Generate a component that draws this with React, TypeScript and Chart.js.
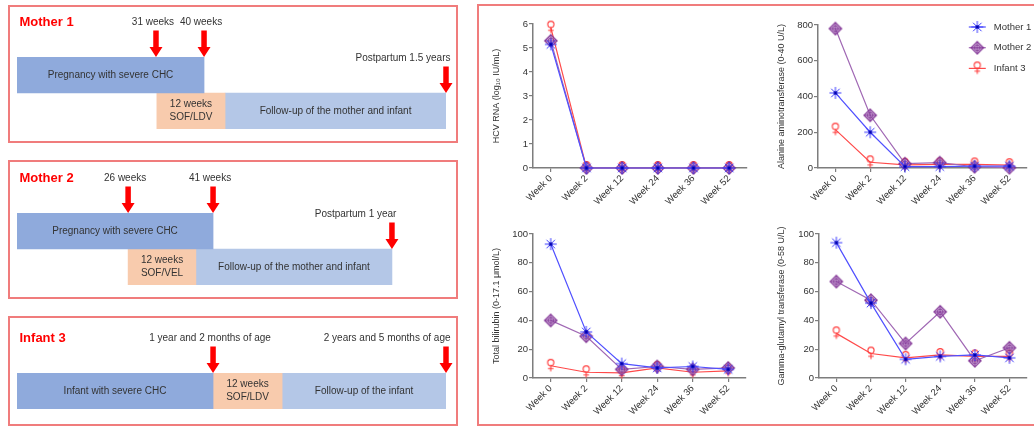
import React, { useEffect, useRef } from 'react';
import { Chart, registerables } from 'chart.js';

Chart.register(...registerables);

const FONT = '"Liberation Sans", Arial, Helvetica, sans-serif';
const TEXT = '#333333';
const AXIS = '#7d7d7d';
const PANEL_BORDER = '#F07C7C';

// ---------------- Line chart data ----------------
const weekLabels = ['Week 0', 'Week 2', 'Week 12', 'Week 24', 'Week 36', 'Week 52'];
const seriesNames = ['Mother 1', 'Mother 2', 'Infant 3'];

const hcvMother1 = [5.15, 0, 0, 0, 0, 0];
const hcvMother2 = [5.3, 0, 0, 0, 0, 0];
const hcvInfant3 = [5.85, 0, 0, 0, 0, 0];

const altMother1 = [420, 200, 8, 8, 10, 10];
const altMother2 = [780, 295, 24, 30, 7, 2];
const altInfant3 = [215, 32, 18, 20, 20, 16];

const biliMother1 = [93, 32, 10, 7, 8, 6];
const biliMother2 = [40, 29, 6, 8, 6, 7];
const biliInfant3 = [8.5, 4, 3.5, 7, 4, 5];

const ggtMother1 = [94, 52, 13, 15, 16, 14];
const ggtMother2 = [67, 54, 24, 46, 12, 21];
const ggtInfant3 = [31, 17, 14, 16, 15, 15];

// ---------------- Timeline data (schematic units 0-100) ----------------
const mother1Rows = ['pregnancy', 'after'];
const mother1Pregnancy = [0, 43.6];
const mother1Treatment = [32.6, 48.5];
const mother1FollowUp = [48.5, 100];
const mother1ArrowAt = [32.4, 43.6, 100];
const mother1ArrowRow = [0, 0, 1];
const mother1ArrowLabels = ['31 weeks', '40 weeks', 'Postpartum 1.5 years'];

const mother2Rows = ['pregnancy', 'after'];
const mother2Pregnancy = [0, 45.7];
const mother2Treatment = [25.9, 41.7];
const mother2FollowUp = [41.7, 87.4];
const mother2ArrowAt = [25.9, 45.7, 87.4];
const mother2ArrowRow = [0, 0, 1];
const mother2ArrowLabels = ['26 weeks', '41 weeks', 'Postpartum 1 year'];

const infant3Rows = ['infant'];
const infant3Disease = [0, 45.7];
const infant3Treatment = [45.7, 61.8];
const infant3FollowUp = [61.8, 100];
const infant3ArrowAt = [45.7, 100];
const infant3ArrowRow = [0, 0];
const infant3ArrowLabels = ['1 year and 2 months of age', '2 years and 5 months of age'];

const SEG_COLORS = ['#8FAADC', '#F8CBAD', '#B4C7E7'];

// ---------------- Markers ----------------
function makeCanvas(size: number) {
  const c = document.createElement('canvas');
  c.width = size;
  c.height = size;
  return c;
}

function asteriskMarker(color: string, core: string) {
  const c = makeCanvas(16);
  const ctx = c.getContext('2d')!;
  const m = 8;
  ctx.strokeStyle = color;
  ctx.lineWidth = 1;
  const r = 6;
  for (let k = 0; k < 4; k++) {
    const a = (k * Math.PI) / 4;
    ctx.beginPath();
    ctx.moveTo(m - r * Math.cos(a), m - r * Math.sin(a));
    ctx.lineTo(m + r * Math.cos(a), m + r * Math.sin(a));
    ctx.stroke();
  }
  ctx.fillStyle = core;
  ctx.fillRect(m - 1.6, m - 1.6, 3.2, 3.2);
  return c;
}

function diamondMarker(color: string, inner: string) {
  const c = makeCanvas(16);
  const ctx = c.getContext('2d')!;
  const m = 8;
  const r = 6.2;
  ctx.fillStyle = inner;
  ctx.strokeStyle = color;
  ctx.lineWidth = 1.1;
  ctx.beginPath();
  ctx.moveTo(m, m - r);
  ctx.lineTo(m + r, m);
  ctx.lineTo(m, m + r);
  ctx.lineTo(m - r, m);
  ctx.closePath();
  ctx.fill();
  ctx.stroke();
  ctx.lineWidth = 0.9;
  ctx.beginPath();
  ctx.arc(m, m, 2.8, 0, Math.PI * 2);
  ctx.stroke();
  ctx.beginPath();
  ctx.moveTo(m, m - r);
  ctx.lineTo(m, m + r);
  ctx.moveTo(m - r, m);
  ctx.lineTo(m + r, m);
  ctx.stroke();
  return c;
}

function femaleMarker(color: string) {
  const c = makeCanvas(18);
  const ctx = c.getContext('2d')!;
  const m = 9;
  ctx.strokeStyle = color;
  ctx.lineWidth = 1.1;
  ctx.beginPath();
  ctx.arc(m, m - 3.3, 3.1, 0, Math.PI * 2);
  ctx.stroke();
  ctx.beginPath();
  ctx.moveTo(m, m - 0.2);
  ctx.lineTo(m, m + 5.5);
  ctx.moveTo(m - 2.8, m + 2.8);
  ctx.lineTo(m + 2.8, m + 2.8);
  ctx.stroke();
  return c;
}

// ---------------- Line charts ----------------
type LineSpec = {
  left: number;
  top: number;
  width: number;
  height: number;
  yWidth: number;
  xHeight: number;
  padTop: number;
  padRight: number;
  max: number;
  step: number;
  title: string;
  series: number[][];
  legend?: boolean;
};

const legendPlugin = {
  id: 'prismLegend',
  afterDraw(chart: any) {
    const { ctx, chartArea } = chart;
    chart.data.datasets.forEach((ds: any, i: number) => {
      const y = chartArea.top + 2 + i * 20.7;
      const x0 = chartArea.right - 58;
      ctx.save();
      ctx.strokeStyle = ds.borderColor;
      ctx.lineWidth = 1.2;
      ctx.beginPath();
      ctx.moveTo(x0, y);
      ctx.lineTo(x0 + 17, y);
      ctx.stroke();
      const img = ds.pointStyle as HTMLCanvasElement;
      ctx.drawImage(img, x0 + 8.5 - img.width / 2, y - img.height / 2);
      ctx.fillStyle = TEXT;
      ctx.font = `9.5px ${FONT}`;
      ctx.textBaseline = 'middle';
      ctx.textAlign = 'left';
      ctx.fillText(ds.label, chartArea.right - 33, y);
      ctx.restore();
    });
  },
};

function LineChart({ spec }: { spec: LineSpec }) {
  const ref = useRef<HTMLCanvasElement>(null);
  useEffect(() => {
    const markers = [
      asteriskMarker('#3B3BFF', '#0000B0'),
      diamondMarker('#7E2E92', 'rgba(190,150,205,0.55)'),
      femaleMarker('#FF3B3B'),
    ];
    const lineColors = ['#5050FF', '#A068B4', '#FF4A4A'];
    const datasets = spec.series.map((data, i) => ({
      label: seriesNames[i],
      data,
      borderColor: lineColors[i],
      backgroundColor: lineColors[i],
      borderWidth: 1.2,
      tension: 0,
      pointStyle: markers[i],
      pointRadius: 6,
      clip: false as any,
    }));
    const tickFont = { family: FONT, size: 9.5 };
    const chart = new Chart(ref.current!, {
      type: 'line',
      data: { labels: weekLabels, datasets },
      options: {
        animation: false,
        responsive: false,
        devicePixelRatio: 1,
        layout: { padding: { left: 0, top: spec.padTop, right: spec.padRight, bottom: 0 } },
        plugins: { legend: { display: false }, tooltip: { enabled: false } },
        scales: {
          x: {
            type: 'category',
            offset: true,
            grid: {
              display: true,
              drawOnChartArea: false,
              drawTicks: true,
              tickLength: 4,
              color: AXIS,
              lineWidth: 1.2,
              offset: false,
            },
            border: { display: true, color: AXIS, width: 1.5 },
            ticks: {
              autoSkip: false,
              minRotation: 45,
              maxRotation: 45,
              color: TEXT,
              font: tickFont,
              padding: 1,
            },
            afterFit: (s: any) => {
              s.height = spec.xHeight;
            },
          },
          y: {
            type: 'linear',
            min: 0,
            max: spec.max,
            grid: {
              display: true,
              drawOnChartArea: false,
              drawTicks: true,
              tickLength: 4,
              color: AXIS,
              lineWidth: 1.2,
            },
            border: { display: true, color: AXIS, width: 1.5 },
            ticks: { stepSize: spec.step, color: TEXT, font: tickFont, padding: 1 },
            title: {
              display: true,
              text: spec.title,
              color: TEXT,
              font: { family: FONT, size: 9 },
              padding: { top: 11.5, bottom: 0 },
            },
            afterFit: (s: any) => {
              s.width = spec.yWidth;
            },
          },
        },
      },
      plugins: spec.legend ? [legendPlugin] : [],
    } as any);
    return () => chart.destroy();
  }, []);
  return (
    <canvas
      ref={ref}
      width={spec.width}
      height={spec.height}
      style={{ position: 'absolute', left: spec.left, top: spec.top, width: spec.width, height: spec.height }}
    />
  );
}

// ---------------- Timeline charts ----------------
type Segment = { range: number[]; row: number; lines: string[] };
type TimelineSpec = {
  left: number;
  top: number;
  width: number;
  height: number;
  padding: { left: number; right: number; top: number; bottom: number };
  title: string;
  rows: string[];
  segments: Segment[];
  arrowAt: number[];
  arrowRow: number[];
  arrowLabels: string[];
  labelAlign: ('center' | 'right')[];
};

function drawArrow(ctx: CanvasRenderingContext2D, x: number, tipY: number, len: number) {
  const shaftW = 5.5;
  const headW = 13;
  const headL = 10;
  ctx.beginPath();
  ctx.moveTo(x - shaftW / 2, tipY - len);
  ctx.lineTo(x + shaftW / 2, tipY - len);
  ctx.lineTo(x + shaftW / 2, tipY - headL);
  ctx.lineTo(x + headW / 2, tipY - headL);
  ctx.lineTo(x, tipY);
  ctx.lineTo(x - headW / 2, tipY - headL);
  ctx.lineTo(x - shaftW / 2, tipY - headL);
  ctx.closePath();
  ctx.fillStyle = '#FF0000';
  ctx.fill();
}

function TimelineChart({ spec }: { spec: TimelineSpec }) {
  const ref = useRef<HTMLCanvasElement>(null);
  useEffect(() => {
    const datasets = spec.segments.map((seg, i) => ({
      label: seg.lines.join(' '),
      data: spec.rows.map((_, r) => (r === seg.row ? seg.range : null)),
      backgroundColor: SEG_COLORS[i],
      borderWidth: 0,
      grouped: false,
      barPercentage: 1,
      categoryPercentage: 1,
    }));
    const plugin = {
      id: 'timelineDecor',
      afterDatasetsDraw(chart: any) {
        const { ctx, chartArea, scales } = chart;
        const rowH = chartArea.height / spec.rows.length;
        ctx.save();
        ctx.fillStyle = TEXT;
        ctx.font = `10px ${FONT}`;
        ctx.textAlign = 'center';
        ctx.textBaseline = 'middle';
        spec.segments.forEach((seg, i) => {
          const el = chart.getDatasetMeta(i).data[seg.row];
          const cx = (el.x + el.base) / 2;
          const cy = el.y;
          const n = seg.lines.length;
          seg.lines.forEach((line, k) => {
            ctx.fillText(line, cx, cy + (k - (n - 1) / 2) * 13);
          });
        });
        spec.arrowAt.forEach((v, i) => {
          const x = scales.x.getPixelForValue(v);
          const tipY = scales.y.getPixelForValue(spec.arrowRow[i]) - rowH / 2;
          drawArrow(ctx, x, tipY, 26.5);
          ctx.fillStyle = TEXT;
          ctx.font = `10px ${FONT}`;
          ctx.textBaseline = 'middle';
          if (spec.labelAlign[i] === 'right') {
            ctx.textAlign = 'right';
            ctx.fillText(spec.arrowLabels[i], x + 4.5, tipY - 35);
          } else {
            ctx.textAlign = 'center';
            ctx.fillText(spec.arrowLabels[i], x - 3, tipY - 35);
          }
        });
        ctx.fillStyle = '#FF0000';
        ctx.font = `bold 13px ${FONT}`;
        ctx.textAlign = 'left';
        ctx.textBaseline = 'middle';
        ctx.fillText(spec.title, chartArea.left + 2.5, chartArea.top - 35);
        ctx.restore();
      },
    };
    const chart = new Chart(ref.current!, {
      type: 'bar',
      data: { labels: spec.rows, datasets },
      options: {
        indexAxis: 'y',
        animation: false,
        responsive: false,
        devicePixelRatio: 1,
        layout: { padding: spec.padding },
        plugins: { legend: { display: false }, tooltip: { enabled: false } },
        scales: {
          x: { type: 'linear', min: 0, max: 100, display: false },
          y: { type: 'category', display: false },
        },
      },
      plugins: [plugin],
    } as any);
    return () => chart.destroy();
  }, []);
  return (
    <canvas
      ref={ref}
      width={spec.width}
      height={spec.height}
      style={{ position: 'absolute', left: spec.left, top: spec.top, width: spec.width, height: spec.height }}
    />
  );
}

const timelineSpecs: TimelineSpec[] = [
  {
    left: 10, top: 7, width: 446, height: 134,
    padding: { left: 7, right: 10, top: 50, bottom: 12 },
    title: 'Mother 1',
    rows: mother1Rows,
    segments: [
      { range: mother1Pregnancy, row: 0, lines: ['Pregnancy with severe CHC'] },
      { range: mother1Treatment, row: 1, lines: ['12 weeks', 'SOF/LDV'] },
      { range: mother1FollowUp, row: 1, lines: ['Follow-up of the mother and infant'] },
    ],
    arrowAt: mother1ArrowAt,
    arrowRow: mother1ArrowRow,
    arrowLabels: mother1ArrowLabels,
    labelAlign: ['center', 'center', 'right'],
  },
  {
    left: 10, top: 162, width: 446, height: 135,
    padding: { left: 7, right: 10, top: 51, bottom: 12 },
    title: 'Mother 2',
    rows: mother2Rows,
    segments: [
      { range: mother2Pregnancy, row: 0, lines: ['Pregnancy with severe CHC'] },
      { range: mother2Treatment, row: 1, lines: ['12 weeks', 'SOF/VEL'] },
      { range: mother2FollowUp, row: 1, lines: ['Follow-up of the mother and infant'] },
    ],
    arrowAt: mother2ArrowAt,
    arrowRow: mother2ArrowRow,
    arrowLabels: mother2ArrowLabels,
    labelAlign: ['center', 'center', 'right'],
  },
  {
    left: 10, top: 318, width: 446, height: 105,
    padding: { left: 7, right: 10, top: 55, bottom: 14 },
    title: 'Infant 3',
    rows: infant3Rows,
    segments: [
      { range: infant3Disease, row: 0, lines: ['Infant with severe CHC'] },
      { range: infant3Treatment, row: 0, lines: ['12 weeks', 'SOF/LDV'] },
      { range: infant3FollowUp, row: 0, lines: ['Follow-up of the infant'] },
    ],
    arrowAt: infant3ArrowAt,
    arrowRow: infant3ArrowRow,
    arrowLabels: infant3ArrowLabels,
    labelAlign: ['center', 'right'],
  },
];

const lineSpecs: LineSpec[] = [
  {
    left: 480, top: 8, width: 285, height: 207, yWidth: 53, xHeight: 47, padTop: 16, padRight: 18,
    max: 6, step: 1, title: 'HCV RNA (log\u2081\u2080 IU/mL)',
    series: [hcvMother1, hcvMother2, hcvInfant3],
  },
  {
    left: 765, top: 8, width: 269, height: 207, yWidth: 53, xHeight: 47, padTop: 17, padRight: 3,
    max: 800, step: 200, title: 'Alanine aminotransferase (0-40 U/L)',
    series: [altMother1, altMother2, altInfant3], legend: true,
  },
  {
    left: 480, top: 215, width: 285, height: 212, yWidth: 53, xHeight: 49, padTop: 19, padRight: 19,
    max: 100, step: 20, title: 'Total bilirubin (0-17.1 \u03bcmol/L)',
    series: [biliMother1, biliMother2, biliInfant3],
  },
  {
    left: 765, top: 215, width: 269, height: 212, yWidth: 54, xHeight: 49, padTop: 19, padRight: 4,
    max: 100, step: 20, title: 'Gamma-glutamyl transferase (0-58 U/L)',
    series: [ggtMother1, ggtMother2, ggtInfant3],
  },
];

function Panel({ left, top, width, height }: { left: number; top: number; width: number; height: number }) {
  return (
    <div
      style={{
        position: 'absolute',
        left,
        top,
        width,
        height,
        boxSizing: 'border-box',
        border: `2px solid ${PANEL_BORDER}`,
      }}
    />
  );
}

export default function App() {
  return (
    <div
      style={{
        position: 'absolute',
        left: 0,
        top: 0,
        width: 1034,
        height: 427,
        overflow: 'hidden',
        background: '#ffffff',
      }}
    >
      <Panel left={8} top={5} width={450} height={138} />
      <Panel left={8} top={160} width={450} height={139} />
      <Panel left={8} top={316} width={450} height={110} />
      <Panel left={477} top={4} width={570} height={422} />
      {timelineSpecs.map((s, i) => (
        <TimelineChart key={'t' + i} spec={s} />
      ))}
      {lineSpecs.map((s, i) => (
        <LineChart key={'l' + i} spec={s} />
      ))}
    </div>
  );
}
